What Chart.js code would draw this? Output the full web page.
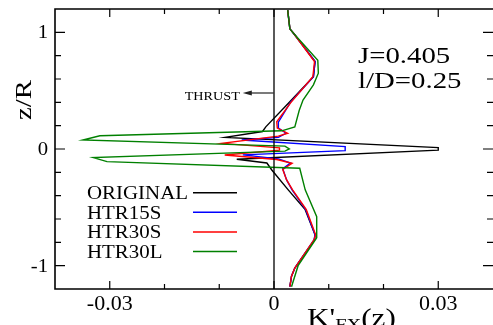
<!DOCTYPE html>
<html>
<head>
<meta charset="utf-8">
<script src="https://cdn.jsdelivr.net/npm/chart.js@4.4.0/dist/chart.umd.min.js"></script>
<style>
    html, body { margin: 0; padding: 0; background: #fff; }
    #wrap { width: 493px; height: 325px; position: relative; }
</style>
</head>
<body>
<div id="wrap"><canvas id="profileChart"></canvas></div>
<script>
// K'FX(z) profiles along z/R
const originalZ = [1.19, 1.03, 0.99, 0.75, 0.62, 0.40, 0.19, 0.15, 0.10, 0.012, -0.010, -0.088, -0.12, -0.18, -0.35, -0.52, -0.735, -0.78, -1.02, -1.09, -1.18];
const originalK = [0.0025, 0.0029, 0.0036, 0.0075, 0.0072, 0.0028, -0.0015, -0.0021, -0.0089, 0.0300, 0.0300, -0.0068, -0.0013, -0.0004, 0.0026, 0.0057, 0.0075, 0.0074, 0.0038, 0.0032, 0.0029];

const htr15sZ = [1.19, 1.03, 0.99, 0.75, 0.62, 0.40, 0.23, 0.18, 0.135, 0.10, 0.077, 0.02, -0.014, -0.05, -0.085, -0.12, -0.17, -0.265, -0.35, -0.52, -0.735, -0.78, -1.02, -1.09, -1.18];
const htr15sK = [0.0025, 0.0029, 0.0036, 0.0075, 0.0072, 0.0030, 0.0008, 0.0008, 0.0022, 0.0008, -0.0059, 0.0130, 0.0130, -0.0057, 0.0008, 0.0030, 0.0016, 0.0023, 0.0033, 0.0058, 0.0075, 0.0073, 0.0038, 0.0032, 0.0029];

const htr30sZ = [1.19, 1.03, 0.99, 0.75, 0.62, 0.40, 0.233, 0.18, 0.135, 0.11, 0.048, 0.01, -0.01, -0.052, -0.09, -0.122, -0.175, -0.265, -0.35, -0.52, -0.735, -0.78, -1.02, -1.09, -1.18];
const htr30sK = [0.0025, 0.0029, 0.0036, 0.0074, 0.0071, 0.0031, 0.0005, 0.0006, 0.0025, 0.0008, -0.0095, 0.0010, 0.0010, -0.0090, 0.0005, 0.0033, 0.0016, 0.0023, 0.0034, 0.0059, 0.0076, 0.0073, 0.0038, 0.0032, 0.0029];

const htr30lZ = [1.19, 1.03, 0.99, 0.76, 0.65, 0.55, 0.42, 0.33, 0.19, 0.156, 0.114, 0.077, 0.025, 0.0, -0.018, -0.074, -0.108, -0.165, -0.35, -0.58, -0.76, -1.0, -1.18];
const htr30lK = [0.0025, 0.0029, 0.0036, 0.0080, 0.0081, 0.0072, 0.0053, 0.0046, 0.0038, 0.0014, -0.0318, -0.0349, 0.0020, 0.0028, 0.0020, -0.0330, -0.0305, 0.0047, 0.0057, 0.0078, 0.0078, 0.0044, 0.0032];

const seriesLabels = ['ORIGINAL', 'HTR15S', 'HTR30S', 'HTR30L'];
const seriesColors = ['#000000', '#0000ff', '#ff0000', '#008000'];

const xTickValues = [-0.03, 0, 0.03];
const xTickLabels = ['-0.03', '0', '0.03'];
const yTickValues = [-1, 0, 1];
const yTickLabels = ['-1', '0', '1'];
const xMinorStep = 0.01;
const yMinorStep = 0.2;

const thrustZ = 0.48;
const thrustTipK = -0.0057;

function toPoints(ks, zs) {
    return zs.map((z, i) => ({ x: ks[i], y: z }));
}

function drawText(ctx, text, x, y, size, align, sx, rotate) {
    ctx.save();
    ctx.translate(x, y);
    if (rotate) ctx.rotate(rotate);
    ctx.scale(sx || 1, 1);
    ctx.font = size + 'px "Liberation Serif", "Times New Roman", serif';
    ctx.textAlign = align || 'left';
    ctx.textBaseline = 'alphabetic';
    ctx.fillStyle = '#000';
    ctx.fillText(text, 0, 0);
    const w = ctx.measureText(text).width * (sx || 1);
    ctx.restore();
    return w;
}

function tickList(min, max, step) {
    const out = [];
    for (let v = Math.ceil(min / step - 1e-6) * step; v <= max + 1e-9; v += step) {
        out.push(Math.round(v / step) * step);
    }
    return out;
}

const framePlugin = {
    id: 'frame',
    afterDatasetsDraw(chart) {
        const ctx = chart.ctx;
        const area = chart.chartArea;
        const xs = chart.scales.x;
        const ys = chart.scales.y;

        ctx.save();
        ctx.strokeStyle = '#000';
        ctx.lineWidth = 1.5;

        // zero line
        const x0 = xs.getPixelForValue(0);
        ctx.lineWidth = 1.3;
        ctx.beginPath();
        ctx.moveTo(x0, area.top);
        ctx.lineTo(x0, area.bottom);
        ctx.stroke();

        // frame
        ctx.lineWidth = 1.6;
        ctx.beginPath();
        ctx.moveTo(area.right + 1, area.top);
        ctx.lineTo(area.left, area.top);
        ctx.lineTo(area.left, area.bottom);
        ctx.lineTo(area.right + 1, area.bottom);
        ctx.stroke();

        // inward ticks
        ctx.lineWidth = 1.2;
        tickList(xs.min, xs.max, xMinorStep).forEach(v => {
            const px = xs.getPixelForValue(v);
            if (px <= area.left + 1 || px >= area.right - 1) return;
            const len = xTickValues.some(t => Math.abs(t - v) < 1e-9) ? 8 : 5;
            ctx.beginPath();
            ctx.moveTo(px, area.bottom);
            ctx.lineTo(px, area.bottom - len);
            ctx.moveTo(px, area.top);
            ctx.lineTo(px, area.top + len);
            ctx.stroke();
        });
        tickList(ys.min, ys.max, yMinorStep).forEach(v => {
            const py = ys.getPixelForValue(v);
            if (py <= area.top + 1 || py >= area.bottom - 1) return;
            const len = yTickValues.some(t => Math.abs(t - v) < 1e-9) ? 10 : 6;
            ctx.beginPath();
            ctx.moveTo(area.left, py);
            ctx.lineTo(area.left + len, py);
            ctx.moveTo(area.right, py);
            ctx.lineTo(area.right - len, py);
            ctx.stroke();
        });

        // tick labels
        xTickValues.forEach((v, i) => {
            drawText(ctx, xTickLabels[i], xs.getPixelForValue(v), area.bottom + 21, 20, 'center', 1.1);
        });
        yTickValues.forEach((v, i) => {
            drawText(ctx, yTickLabels[i], area.left - 7, ys.getPixelForValue(v) + 6, 18, 'right', 1.15);
        });

        // axis titles
        drawText(ctx, 'z/R', 31, ys.getPixelForValue(0.42), 23, 'center', 1.25, -Math.PI / 2);
        let tx = 307;
        tx += drawText(ctx, "K'", tx, 326, 26, 'left', 1.2);
        tx += drawText(ctx, 'FX', tx, 330, 17, 'left', 1.2);
        drawText(ctx, '(z)', tx, 326, 26, 'left', 1.2);

        // case annotation
        drawText(ctx, 'J=0.405', 358, 63, 24, 'left', 1.2);
        drawText(ctx, 'l/D=0.25', 358, 88, 24, 'left', 1.2);

        // thrust arrow
        const ay = ys.getPixelForValue(thrustZ);
        const tip = xs.getPixelForValue(thrustTipK);
        ctx.strokeStyle = '#333';
        ctx.fillStyle = '#222';
        ctx.lineWidth = 1.3;
        ctx.beginPath();
        ctx.moveTo(x0, ay);
        ctx.lineTo(tip + 8, ay);
        ctx.stroke();
        ctx.beginPath();
        ctx.moveTo(tip, ay);
        ctx.lineTo(tip + 9, ay - 2.5);
        ctx.lineTo(tip + 9, ay + 2.5);
        ctx.closePath();
        ctx.fill();
        drawText(ctx, 'THRUST', tip - 3, ay + 6.5, 13.5, 'right', 1.05);

        // legend
        const legendBase = [199.3, 218.8, 238.4, 258];
        chart.data.datasets.forEach((ds, i) => {
            drawText(ctx, ds.label, 87, legendBase[i], 19, 'left', 1.1);
            ctx.strokeStyle = ds.borderColor;
            ctx.lineWidth = 1.5;
            ctx.beginPath();
            ctx.moveTo(193, legendBase[i] - 6.5);
            ctx.lineTo(237, legendBase[i] - 6.5);
            ctx.stroke();
        });

        ctx.restore();
    }
};

function buildDatasets() {
    const series = [
        toPoints(originalK, originalZ),
        toPoints(htr15sK, htr15sZ),
        toPoints(htr30sK, htr30sZ),
        toPoints(htr30lK, htr30lZ)
    ];
    return series.map((pts, i) => ({
        label: seriesLabels[i],
        data: pts,
        borderColor: seriesColors[i],
        backgroundColor: seriesColors[i],
        borderWidth: 1.4,
        showLine: true,
        pointRadius: 0,
        tension: 0,
        order: 3 - i
    }));
}

const ctx = document.getElementById('profileChart').getContext('2d');
new Chart(ctx, {
    type: 'scatter',
    data: { datasets: buildDatasets() },
    options: {
        responsive: true,
        maintainAspectRatio: false,
        animation: false,
        layout: { padding: { left: 55, right: 0, top: 9, bottom: 36 } },
        plugins: {
            legend: { display: false },
            tooltip: { enabled: false }
        },
        scales: {
            x: { type: 'linear', min: -0.04, max: 0.04, display: false },
            y: { type: 'linear', min: -1.2, max: 1.2, display: false }
        }
    },
    plugins: [framePlugin]
});
</script>
</body>
</html>
